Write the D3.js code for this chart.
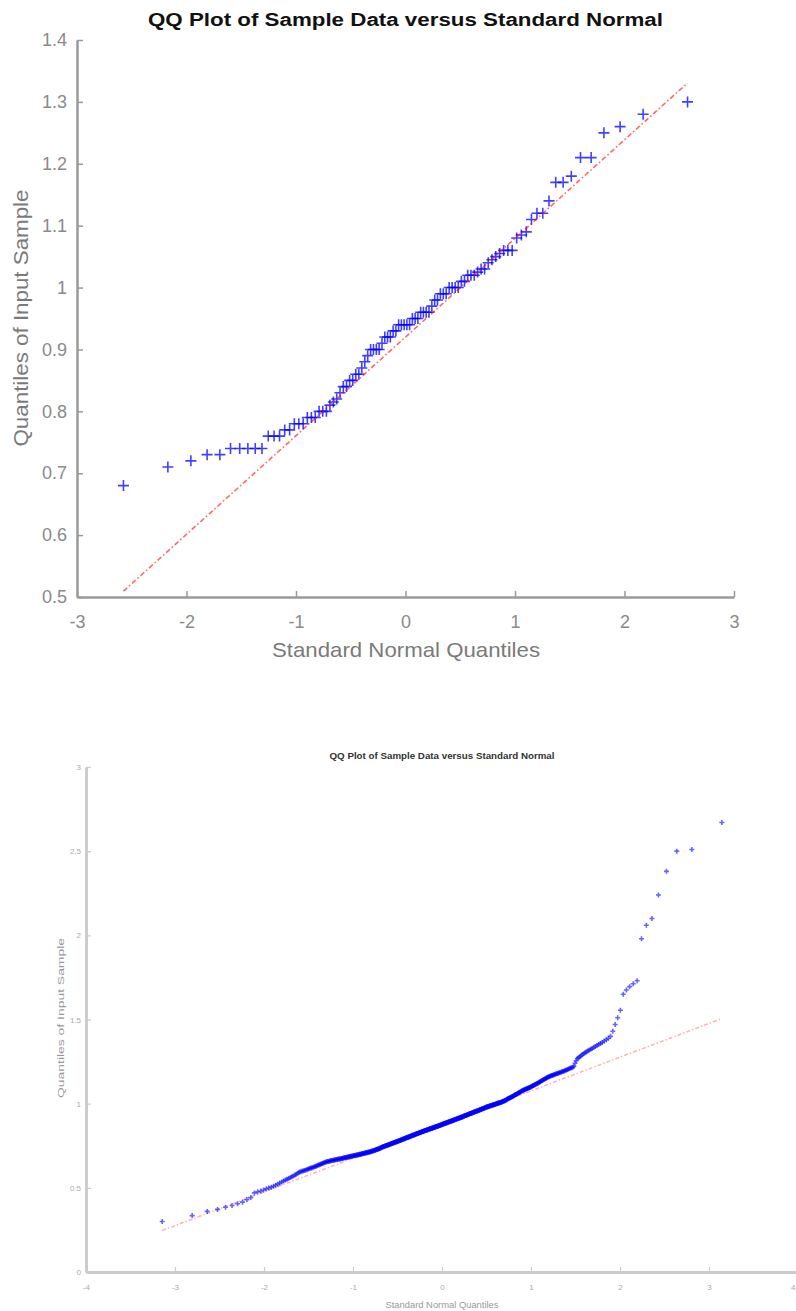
<!doctype html>
<html lang="en">
<head>
<meta charset="utf-8">
<style>
  body { margin: 0; background: #fff; }
  svg { display: block; }
  text { font-family: "Liberation Sans", Arial, Helvetica, sans-serif; }
</style>
</head>
<body>
<script src="https://d3js.org/d3.v7.min.js"></script>
<script>
// sorted sample values (x = standard normal quantile of each rank)
var sampleTop = [
  0.68, 0.71, 0.72, 0.73, 0.73, 0.74, 0.74, 0.74, 0.74, 0.74,
  0.76, 0.76, 0.76, 0.77, 0.77, 0.78, 0.78, 0.78, 0.79, 0.79,
  0.79, 0.80, 0.80, 0.80, 0.81, 0.815, 0.82, 0.83, 0.84, 0.84,
  0.85, 0.85, 0.86, 0.86, 0.87, 0.88, 0.89, 0.90, 0.90, 0.90,
  0.90, 0.91, 0.92, 0.92, 0.92, 0.93, 0.93, 0.94, 0.94, 0.94,
  0.94, 0.94, 0.95, 0.95, 0.95, 0.96, 0.96, 0.96, 0.96, 0.97,
  0.98, 0.98, 0.99, 0.99, 0.99, 1.00, 1.00, 1.00, 1.00, 1.01,
  1.01, 1.02, 1.02, 1.02, 1.025, 1.03, 1.03, 1.04, 1.045, 1.05,
  1.055, 1.06, 1.06, 1.06, 1.08, 1.085, 1.09, 1.11, 1.12, 1.12,
  1.14, 1.17, 1.17, 1.18, 1.21, 1.21, 1.25, 1.26, 1.28, 1.30
];

var sampleBottom = [
  0.300, 0.335, 0.360, 0.372, 0.385, 0.395, 0.405, 0.415, 0.430, 0.442,
  0.470, 0.476, 0.481, 0.487, 0.494, 0.499, 0.504, 0.509, 0.515, 0.522,
  0.529, 0.535, 0.541, 0.546, 0.551, 0.556, 0.561, 0.566, 0.571, 0.576,
  0.581, 0.586, 0.592, 0.596, 0.598, 0.600, 0.603, 0.605, 0.608, 0.611,
  0.614, 0.616, 0.618, 0.620, 0.623, 0.625, 0.627, 0.630, 0.632, 0.635,
  0.637, 0.640, 0.642, 0.644, 0.646, 0.649, 0.651, 0.653, 0.655, 0.656,
  0.657, 0.658, 0.659, 0.661, 0.662, 0.663, 0.664, 0.665, 0.666, 0.667,
  0.668, 0.669, 0.670, 0.671, 0.671, 0.672, 0.673, 0.674, 0.675, 0.676,
  0.677, 0.678, 0.679, 0.680, 0.680, 0.681, 0.682, 0.683, 0.684, 0.685,
  0.686, 0.687, 0.687, 0.688, 0.689, 0.690, 0.691, 0.692, 0.692, 0.693,
  0.694, 0.695, 0.695, 0.696, 0.697, 0.698, 0.699, 0.699, 0.700, 0.701,
  0.702, 0.703, 0.704, 0.704, 0.705, 0.706, 0.707, 0.708, 0.708, 0.709,
  0.710, 0.711, 0.712, 0.712, 0.713, 0.714, 0.715, 0.716, 0.717, 0.718,
  0.719, 0.720, 0.721, 0.722, 0.723, 0.724, 0.725, 0.726, 0.727, 0.728,
  0.729, 0.730, 0.731, 0.732, 0.733, 0.735, 0.736, 0.737, 0.739, 0.740,
  0.742, 0.743, 0.744, 0.745, 0.746, 0.747, 0.748, 0.749, 0.750, 0.751,
  0.752, 0.753, 0.754, 0.755, 0.756, 0.757, 0.758, 0.759, 0.760, 0.761,
  0.762, 0.763, 0.764, 0.765, 0.766, 0.767, 0.768, 0.769, 0.770, 0.771,
  0.772, 0.773, 0.774, 0.774, 0.775, 0.776, 0.777, 0.778, 0.779, 0.780,
  0.781, 0.782, 0.783, 0.784, 0.785, 0.786, 0.787, 0.788, 0.789, 0.790,
  0.791, 0.792, 0.793, 0.794, 0.795, 0.796, 0.797, 0.798, 0.799, 0.800,
  0.800, 0.801, 0.802, 0.803, 0.804, 0.805, 0.806, 0.807, 0.808, 0.809,
  0.810, 0.811, 0.812, 0.813, 0.813, 0.814, 0.815, 0.816, 0.817, 0.818,
  0.819, 0.820, 0.821, 0.822, 0.823, 0.823, 0.824, 0.825, 0.826, 0.827,
  0.828, 0.829, 0.829, 0.830, 0.831, 0.832, 0.833, 0.834, 0.835, 0.835,
  0.836, 0.837, 0.838, 0.839, 0.840, 0.840, 0.841, 0.842, 0.843, 0.844,
  0.844, 0.845, 0.846, 0.847, 0.848, 0.848, 0.849, 0.850, 0.851, 0.852,
  0.852, 0.853, 0.854, 0.855, 0.856, 0.856, 0.857, 0.858, 0.859, 0.860,
  0.860, 0.861, 0.862, 0.863, 0.864, 0.864, 0.865, 0.866, 0.867, 0.868,
  0.868, 0.869, 0.870, 0.871, 0.872, 0.872, 0.873, 0.874, 0.875, 0.876,
  0.877, 0.877, 0.878, 0.879, 0.880, 0.881, 0.882, 0.882, 0.883, 0.884,
  0.885, 0.886, 0.887, 0.887, 0.888, 0.889, 0.890, 0.891, 0.892, 0.892,
  0.893, 0.894, 0.895, 0.896, 0.897, 0.897, 0.898, 0.899, 0.900, 0.901,
  0.902, 0.902, 0.903, 0.904, 0.905, 0.906, 0.907, 0.908, 0.908, 0.909,
  0.910, 0.911, 0.912, 0.913, 0.913, 0.914, 0.915, 0.916, 0.917, 0.918,
  0.919, 0.920, 0.920, 0.921, 0.922, 0.923, 0.924, 0.925, 0.926, 0.927,
  0.928, 0.929, 0.929, 0.930, 0.931, 0.932, 0.933, 0.934, 0.935, 0.936,
  0.937, 0.938, 0.939, 0.940, 0.941, 0.941, 0.942, 0.943, 0.944, 0.945,
  0.946, 0.947, 0.948, 0.949, 0.950, 0.951, 0.952, 0.953, 0.954, 0.955,
  0.955, 0.956, 0.957, 0.958, 0.959, 0.960, 0.961, 0.962, 0.963, 0.964,
  0.965, 0.966, 0.967, 0.968, 0.969, 0.970, 0.971, 0.972, 0.973, 0.974,
  0.975, 0.976, 0.977, 0.978, 0.979, 0.980, 0.981, 0.982, 0.982, 0.983,
  0.984, 0.985, 0.986, 0.987, 0.988, 0.988, 0.989, 0.990, 0.991, 0.992,
  0.993, 0.993, 0.994, 0.995, 0.996, 0.997, 0.998, 0.999, 1.000, 1.001,
  1.002, 1.003, 1.004, 1.005, 1.006, 1.006, 1.007, 1.008, 1.009, 1.010,
  1.012, 1.013, 1.014, 1.015, 1.016, 1.018, 1.019, 1.021, 1.022, 1.024,
  1.026, 1.027, 1.029, 1.030, 1.032, 1.033, 1.035, 1.037, 1.038, 1.040,
  1.041, 1.043, 1.044, 1.046, 1.048, 1.050, 1.052, 1.054, 1.055, 1.057,
  1.059, 1.061, 1.063, 1.065, 1.066, 1.068, 1.070, 1.072, 1.074, 1.076,
  1.077, 1.079, 1.080, 1.082, 1.084, 1.085, 1.087, 1.088, 1.090, 1.092,
  1.093, 1.095, 1.096, 1.098, 1.100, 1.101, 1.103, 1.106, 1.108, 1.110,
  1.112, 1.114, 1.116, 1.118, 1.120, 1.122, 1.124, 1.127, 1.129, 1.132,
  1.134, 1.137, 1.139, 1.142, 1.144, 1.147, 1.149, 1.152, 1.154, 1.157,
  1.159, 1.161, 1.163, 1.165, 1.167, 1.168, 1.170, 1.172, 1.174, 1.176,
  1.178, 1.179, 1.181, 1.183, 1.185, 1.187, 1.189, 1.191, 1.193, 1.195,
  1.198, 1.200, 1.203, 1.206, 1.209, 1.212, 1.214, 1.217, 1.222, 1.240,
  1.255, 1.268, 1.273, 1.279, 1.285, 1.291, 1.297, 1.302, 1.307, 1.313,
  1.318, 1.323, 1.328, 1.334, 1.340, 1.346, 1.352, 1.358, 1.364, 1.372,
  1.380, 1.388, 1.400, 1.430, 1.470, 1.510, 1.555, 1.650, 1.675, 1.695,
  1.712, 1.730, 1.980, 2.060, 2.100, 2.240, 2.380, 2.500, 2.510, 2.670
];

var xTicksTop = [-3, -2, -1, 0, 1, 2, 3];
var yTicksTop = [0.5, 0.6, 0.7, 0.8, 0.9, 1, 1.1, 1.2, 1.3, 1.4];
var xTicksBottom = [-4, -3, -2, -1, 0, 1, 2, 3, 4];
var yTicksBottom = [0, 0.5, 1, 1.5, 2, 2.5, 3];

var titleText = "QQ Plot of Sample Data versus Standard Normal";
var xLabelText = "Standard Normal Quantiles";
var yLabelText = "Quantiles of Input Sample";

var width = 796, height = 1311;
var svg = d3.select("body").append("svg")
    .attr("width", width)
    .attr("height", height);

// inverse standard normal cdf (Acklam)
function norminv(p) {
  var a = [-39.69683028665376, 220.9460984245205, -275.9285104469687, 138.3577518672690, -30.66479806614716, 2.506628277459239];
  var b = [-54.47609879822406, 161.5858368580409, -155.6989798598866, 66.80131188771972, -13.28068155288572];
  var c = [-0.007784894002430293, -0.3223964580411365, -2.400758277161838, -2.549671035006765, 4.374664141464968, 2.938163982698783];
  var d = [0.007784695709041462, 0.3224671290700398, 2.445134137142996, 3.754408661907416];
  var plow = 0.02425, q, r;
  if (p < plow) {
    q = Math.sqrt(-2 * Math.log(p));
    return (((((c[0]*q+c[1])*q+c[2])*q+c[3])*q+c[4])*q+c[5]) / ((((d[0]*q+d[1])*q+d[2])*q+d[3])*q+1);
  }
  if (p > 1 - plow) {
    q = Math.sqrt(-2 * Math.log(1 - p));
    return -(((((c[0]*q+c[1])*q+c[2])*q+c[3])*q+c[4])*q+c[5]) / ((((d[0]*q+d[1])*q+d[2])*q+d[3])*q+1);
  }
  q = p - 0.5; r = q * q;
  return (((((a[0]*r+a[1])*r+a[2])*r+a[3])*r+a[4])*r+a[5])*q / (((((b[0]*r+b[1])*r+b[2])*r+b[3])*r+b[4])*r+1);
}

// percentile the matlab way (position n*p + 0.5)
function prctile(s, p) {
  var pos = s.length * p + 0.5, lo = Math.floor(pos);
  if (lo < 1) return s[0];
  if (lo >= s.length) return s[s.length - 1];
  return s[lo - 1] + (pos - lo) * (s[lo] - s[lo - 1]);
}

function qqplot(o) {
  var n = o.data.length;
  var pts = o.data.map(function (v, i) { return { x: norminv((i + 0.5) / n), y: v }; });

  var x = d3.scaleLinear().domain(o.xDomain).range([o.left, o.right]);
  var y = d3.scaleLinear().domain(o.yDomain).range([o.bottom, o.top]);
  var g = svg.append("g");
  var fmt = function (d) { return String(+d.toFixed(2)); };

  var ax = g.append("g")
      .attr("transform", "translate(0," + o.bottom + ")")
      .call(d3.axisBottom(x).tickValues(o.xTicks).tickSize(-o.tick).tickSizeOuter(0)
        .tickPadding(o.xPad).tickFormat(fmt));
  var ay = g.append("g")
      .attr("transform", "translate(" + o.left + ",0)")
      .call(d3.axisLeft(y).tickValues(o.yTicks).tickSize(-o.tick).tickSizeOuter(0)
        .tickPadding(o.yPad).tickFormat(fmt));
  [ax, ay].forEach(function (a) {
    a.attr("font-size", null).attr("font-family", null);
    a.select(".domain").attr("stroke", o.axisColor).attr("stroke-width", o.axisWidth);
    a.selectAll(".tick line").attr("stroke", o.axisColor).attr("stroke-width", o.tickWidth);
    a.selectAll(".tick text").attr("fill", o.tickColor).style("font-size", o.tickFont + "px");
  });
  // keep a label that falls on the page edge inside it
  ax.selectAll(".tick text")
      .attr("text-anchor", function (d) { return x(d) > width - 6 ? "end" : "middle"; })
      .attr("dx", function (d) { return x(d) > width - 6 ? width - 1 - x(d) : 0; });

  // reference line through the 1st and 3rd quartiles, over the data range
  var q1 = prctile(o.data, 0.25), q3 = prctile(o.data, 0.75);
  var z1 = norminv(0.25), z3 = norminv(0.75);
  var slope = (q3 - q1) / (z3 - z1), mid = (q1 + q3) / 2;
  var xr = d3.extent(pts, function (d) { return d.x; });

  function drawLine() {
    g.append("line")
        .attr("x1", x(xr[0])).attr("y1", y(mid + slope * xr[0]))
        .attr("x2", x(xr[1])).attr("y2", y(mid + slope * xr[1]))
        .attr("stroke", "#ff0000")
        .attr("stroke-opacity", o.lineOpacity)
        .attr("stroke-width", o.lineWidth)
        .attr("stroke-dasharray", o.dash);
  }
  function drawPoints() {
    var s = o.marker;
    g.append("g").selectAll("path")
      .data(pts).enter().append("path")
        .attr("d", "M" + (-s) + ",0H" + s + "M0," + (-s) + "V" + s)
        .attr("transform", function (d) { return "translate(" + x(d.x) + "," + y(d.y) + ")"; })
        .attr("fill", "none")
        .attr("stroke", "#0000ff")
        .attr("stroke-opacity", o.markerOpacity)
        .attr("stroke-width", o.markerWidth);
  }
  if (o.lineOnTop) { drawPoints(); drawLine(); } else { drawLine(); drawPoints(); }

  g.append("text")
      .attr("x", (o.left + o.right) / 2 + o.titleDx).attr("y", o.titleY)
      .attr("text-anchor", "middle")
      .attr("font-weight", "bold")
      .attr("fill", o.titleColor)
      .attr("textLength", o.titleLen).attr("lengthAdjust", "spacingAndGlyphs")
      .style("font-size", o.titleFont + "px")
      .text(titleText);

  g.append("text")
      .attr("x", o.xLabelX).attr("y", o.xLabelY)
      .attr("text-anchor", "middle")
      .attr("fill", o.labelColor)
      .attr("textLength", o.xLabelLen).attr("lengthAdjust", "spacingAndGlyphs")
      .style("font-size", o.labelFont + "px")
      .text(xLabelText);

  g.append("text")
      .attr("transform", "translate(" + o.yLabelX + "," + o.yLabelY + ") rotate(-90)")
      .attr("text-anchor", "middle")
      .attr("fill", o.labelColor)
      .attr("textLength", o.yLabelLen).attr("lengthAdjust", "spacingAndGlyphs")
      .style("font-size", o.labelFont + "px")
      .text(yLabelText);
}

qqplot({
  data: sampleTop, xDomain: [-3, 3], yDomain: [0.5, 1.4], xTicks: xTicksTop, yTicks: yTicksTop,
  left: 77, right: 734, top: 40, bottom: 597,
  tick: 6, xPad: 18, yPad: 10, axisColor: "#9a9a9a", axisWidth: 2.5, tickWidth: 1.5,
  tickColor: "#8a8a8a", tickFont: 18,
  marker: 5.5, markerWidth: 1.6, markerOpacity: 0.75,
  lineOnTop: true, lineOpacity: 0.6, lineWidth: 1.6, dash: "5,2.5,1.5,2.5",
  titleY: 26, titleDx: 0, titleFont: 18, titleLen: 515, titleColor: "#111",
  xLabelX: 406, xLabelY: 657, xLabelLen: 268,
  yLabelX: 28, yLabelY: 318, yLabelLen: 257,
  labelFont: 21, labelColor: "#7a7a7a"
});

qqplot({
  data: sampleBottom, xDomain: [-4, 4], yDomain: [0, 3], xTicks: xTicksBottom, yTicks: yTicksBottom,
  left: 86, right: 798, top: 767, bottom: 1272,
  tick: 5, xPad: 12, yPad: 5, axisColor: "#cccccc", axisWidth: 3, tickWidth: 1.2,
  tickColor: "#aaaaaa", tickFont: 8,
  marker: 2.5, markerWidth: 1.6, markerOpacity: 0.6,
  lineOnTop: false, lineOpacity: 0.3, lineWidth: 1.5, dash: "4,2,1.5,2",
  titleY: 759, titleDx: 0, titleFont: 9, titleLen: 225, titleColor: "#333",
  xLabelX: 442, xLabelY: 1308, xLabelLen: 113,
  yLabelX: 64, yLabelY: 1018, yLabelLen: 160,
  labelFont: 9, labelColor: "#999999"
});
</script>
</body>
</html>
